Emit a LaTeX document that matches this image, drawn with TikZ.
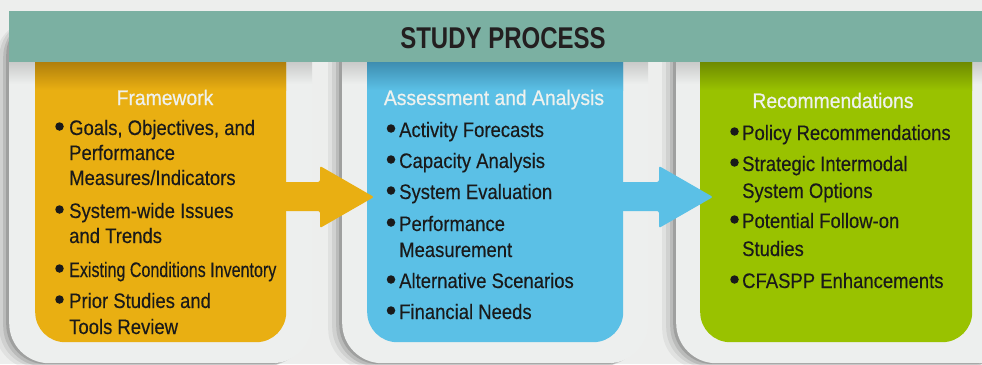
\documentclass[tikz,border=0pt]{standalone}
\usepackage{fontspec}
\setmainfont{Liberation Sans}[FakeStretch=0.88, FakeBold=0.3]
\newfontfamily\stagefont{Liberation Sans}[FakeStretch=0.92, FakeBold=0.6]
\newfontfamily\tightfont{Liberation Sans}[FakeStretch=0.765, FakeBold=0.3]
\newfontfamily\headfont{Liberation Sans}[FakeStretch=0.8]
\usetikzlibrary{shadows}
\definecolor{bgc}{HTML}{EDEEED}
\definecolor{cardc}{HTML}{EDEFEE}
\definecolor{cardtop}{HTML}{C9CAC9}
\definecolor{hdrc}{HTML}{7BB0A2}
\definecolor{ink}{HTML}{1A1A1A}
\definecolor{headink}{HTML}{231F20}
\definecolor{paneltitle}{HTML}{EEF1EE}
\definecolor{orc}{HTML}{E9AF12}
\definecolor{ordk}{HTML}{B07F0C}
\definecolor{blc}{HTML}{5BC0E6}
\definecolor{bldk}{HTML}{3E8DB0}
\definecolor{grc}{HTML}{99C200}
\definecolor{grdk}{HTML}{6E8A00}
\begin{document}
\begin{tikzpicture}[x=1pt,y=-1pt,
  cardbox/.style={fill=cardc, rounded corners=40pt, minimum height=349pt,
    anchor=north west, inner sep=0pt, draw=none,
    general shadow={shadow xshift=-14pt, shadow yshift=-6pt, fill=black, opacity=.05},
    general shadow={shadow xshift=-10pt, shadow yshift=-4pt, fill=black, opacity=.07},
    general shadow={shadow xshift=-6pt, shadow yshift=-3pt, fill=black, opacity=.10},
    general shadow={shadow xshift=-3pt, shadow yshift=-1pt, fill=black, opacity=.14}},
  panel/.style={rounded corners=30pt, minimum height=317pt, anchor=north west,
    inner sep=0pt, draw=none},
  txt/.style={anchor=base west, inner sep=0pt, text=ink,
    font=\fontsize{21}{25}\selectfont},
  ptitle/.style={anchor=base, inner sep=0pt, text=paneltitle,
    font=\stagefont\fontsize{21}{25}\selectfont},
  bul/.style={circle, fill=ink, inner sep=0pt, minimum size=8.5pt},
  blockarrow/.style={rounded corners=2pt}]
\useasboundingbox (0,0) rectangle (982,364);
\fill[bgc] (0,0) rectangle (982,364);

% backing cards with their cast shadows
\node[cardbox, minimum width=303pt] (card1) at (9,14) {};
\node[cardbox, minimum width=306pt] (card2) at (342,14) {};
\node[cardbox, minimum width=340pt] (card3) at (676,14) {};
% shade cast by the header band onto the cards
\shade[top color=cardtop, bottom color=cardc] (9,62) rectangle (312,84);
\shade[top color=cardtop, bottom color=cardc] (342,62) rectangle (648,84);
\shade[top color=cardtop, bottom color=cardc] (676,62) rectangle (982,84);

% coloured stage panels
\node[panel, fill=orc, minimum width=251pt] (fw) at (35,25) {};
\node[panel, fill=blc, minimum width=256pt] (aa) at (367,25) {};
\node[panel, fill=grc, minimum width=272pt] (rc) at (700,25) {};
\shade[top color=ordk, bottom color=orc] (35,62) rectangle (286,90);
\shade[top color=bldk, bottom color=blc] (367,62) rectangle (623,90);
\shade[top color=grdk, bottom color=grc] (700,62) rectangle (972,90);

% block arrows between the stages
\fill[orc, blockarrow] (270,182) -- (320,182) -- (320,166) -- (374,197)
  -- (320,228) -- (320,211) -- (270,211) -- cycle;
\fill[blc, blockarrow] (608,182) -- (659,182) -- (659,166) -- (713,197)
  -- (659,228) -- (659,211) -- (608,211) -- cycle;

% header band
\node[fill=hdrc, minimum width=973pt, minimum height=51pt, anchor=north west,
  inner sep=0pt] (hdr) at (9,11) {};
\node[anchor=base, inner sep=0pt, text=headink,
  font=\headfont\fontsize{30}{34}\selectfont\bfseries] (title) at (503,48) {STUDY PROCESS};

% Framework
\node[ptitle] (fwt) at (165,105) {Framework};
\node[bul] (fwb1) at (59.5,126.5) {};
\node[txt] (fw1) at (69,135) {Goals, Objectives, and};
\node[txt] (fw1b) at (69,160) {Performance};
\node[txt] (fw1c) at (69,185) {Measures/Indicators};
\node[bul] (fwb2) at (59.5,209.5) {};
\node[txt] (fw2) at (69,218) {System-wide Issues};
\node[txt] (fw2b) at (69,243) {and Trends};
\node[bul] (fwb3) at (59.5,268.5) {};
\node[txt, font=\tightfont\fontsize{21}{25}\selectfont] (fw3) at (69,277) {Existing Conditions Inventory};
\node[bul] (fwb4) at (59.5,299.5) {};
\node[txt] (fw4) at (69,308) {Prior Studies and};
\node[txt] (fw4b) at (69,334) {Tools Review};

% Assessment and Analysis
\node[ptitle] (aat) at (494,105) {Assessment and Analysis};
\node[bul] (aab1) at (391,128.5) {};
\node[txt] (aa1) at (399,137) {Activity Forecasts};
\node[bul] (aab2) at (391,159.5) {};
\node[txt] (aa2) at (399,168) {Capacity Analysis};
\node[bul] (aab3) at (391,190.5) {};
\node[txt] (aa3) at (399,199) {System Evaluation};
\node[bul] (aab4) at (391,222.5) {};
\node[txt] (aa4) at (399,231) {Performance};
\node[txt] (aa4b) at (399,257) {Measurement};
\node[bul] (aab5) at (391,279.5) {};
\node[txt] (aa5) at (399,288) {Alternative Scenarios};
\node[bul] (aab6) at (391,310.5) {};
\node[txt] (aa6) at (399,319) {Financial Needs};

% Recommendations
\node[ptitle] (rct) at (833,108) {Recommendations};
\node[bul] (rcb1) at (734.5,131.5) {};
\node[txt] (rc1) at (742,140) {Policy Recommendations};
\node[bul] (rcb2) at (734.5,162.5) {};
\node[txt] (rc2) at (742,171) {Strategic Intermodal};
\node[txt] (rc2b) at (742,198) {System Options};
\node[bul] (rcb3) at (734.5,219.5) {};
\node[txt] (rc3) at (742,228) {Potential Follow-on};
\node[txt] (rc3b) at (742,256) {Studies};
\node[bul] (rcb4) at (734.5,279.5) {};
\node[txt] (rc4) at (742,288) {CFASPP Enhancements};
\end{tikzpicture}
\end{document}
